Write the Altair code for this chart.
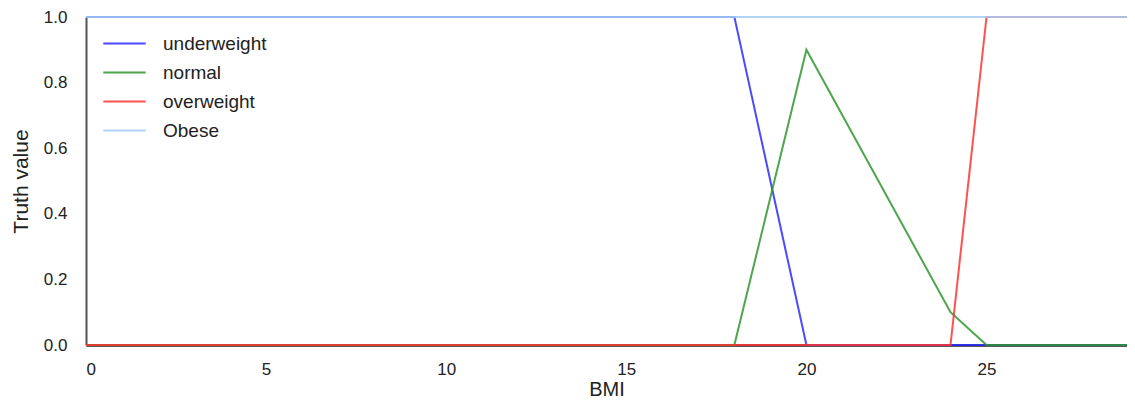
import altair as alt
import pandas as pd

series = ["underweight", "normal", "overweight", "Obese"]
colors = ["#2b2bff", "#2e952e", "#ff3333", "#a4cbf5"]

bmi_under = [0, 18, 20, 28.9]
val_under = [1, 1, 0, 0]
bmi_normal = [0, 18, 20, 24, 25, 28.9]
val_normal = [0, 0, 0.9, 0.1, 0, 0]
bmi_over = [0, 24, 25, 28.9]
val_over = [0, 0, 1, 1]
bmi_obese = [0, 28.9]
val_obese = [1, 1]

rows = []
for name, xs, ys in [("underweight", bmi_under, val_under),
                     ("normal", bmi_normal, val_normal),
                     ("overweight", bmi_over, val_over),
                     ("Obese", bmi_obese, val_obese)]:
    for i, (x, y) in enumerate(zip(xs, ys)):
        rows.append({"series": name, "i": i, "BMI": x, "value": y})
df = pd.DataFrame(rows)

font = "Liberation Sans"

chart = alt.Chart(df).mark_line(strokeWidth=2, clip=False, opacity=0.85).encode(
    x=alt.X("BMI:Q", title="BMI",
            scale=alt.Scale(domain=[0, 28.9], nice=False, zero=False),
            axis=alt.Axis(values=[0, 5, 10, 15, 20, 25], ticks=False, grid=False,
                          labelPadding=16, titlePadding=2, labelFontSize=17,
                          titleFontSize=20, titleFontWeight="normal",
                          domainColor="#222222", domainWidth=2.5,
                          labelColor="#222222", titleColor="#222222", labelFont=font, titleFont=font)),
    y=alt.Y("value:Q", title="Truth value",
            scale=alt.Scale(domain=[0, 1], nice=False),
            axis=alt.Axis(values=[0, 0.2, 0.4, 0.6, 0.8, 1.0], format=".1f", ticks=False, grid=False,
                          labelPadding=19, titlePadding=12, labelFontSize=17,
                          titleFontSize=21, titleFontWeight="normal",
                          domainColor="#555555", domainWidth=2,
                          labelColor="#222222", titleColor="#222222", labelFont=font, titleFont=font)),
    color=alt.Color("series:N", sort=series,
                    scale=alt.Scale(domain=series, range=colors),
                    legend=alt.Legend(title=None, orient="none", legendX=16, legendY=14,
                                      symbolType="stroke", symbolSize=1800, symbolStrokeWidth=2,
                                      labelFontSize=19, labelFont=font, labelColor="#222222",
                                      clipHeight=25, rowPadding=4, labelOffset=16)),
    detail="series:N",
    order=alt.Order("i:Q"),
).properties(
    width=1041, height=328,
    autosize=alt.AutoSizeParams(type="none"),
    padding={"left": 78, "top": 9, "right": 0, "bottom": 54},
    background="white",
).configure_view(stroke=None)

chart.save("out.html", embed_options={"renderer": "svg", "actions": False})
